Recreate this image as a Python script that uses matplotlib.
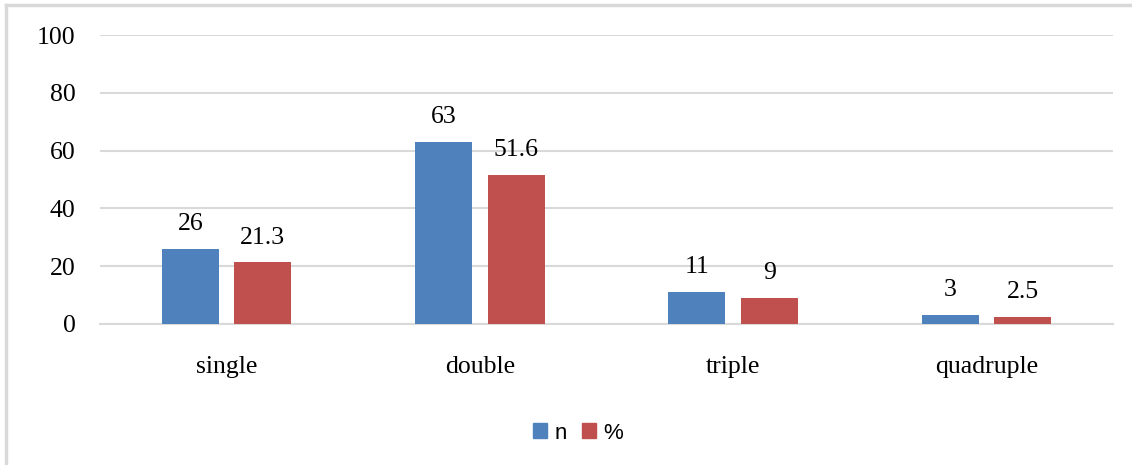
import numpy as np
import matplotlib
matplotlib.use('Agg')
from matplotlib import pyplot as plt
from matplotlib.lines import Line2D
from matplotlib.patches import Patch

categories = ['single', 'double', 'triple', 'quadruple']
n_values = [26, 63, 11, 3]
pct_values = [21.3, 51.6, 9, 2.5]
n_labels = ['26', '63', '11', '3']
pct_labels = ['21.3', '51.6', '9', '2.5']

blue = '#4F81BD'
red = '#C0504D'
grid = '#D9D9D9'
serif = ['Liberation Serif', 'DejaVu Serif']

fig = plt.figure(figsize=(11.32, 4.65), dpi=100)
ax = fig.add_axes([100/1132, 1-324/465, 1013/1132, 289/465])

x = np.arange(len(categories))
w = 0.225
b1 = ax.bar(x - 0.143, n_values, w, color=blue, zorder=3)
b2 = ax.bar(x + 0.143, pct_values, w, color=red, zorder=3)

for bars, labels in ((b1, n_labels), (b2, pct_labels)):
    for rect, lab in zip(bars, labels):
        ax.annotate(lab, (rect.get_x() + rect.get_width()/2, rect.get_height()),
                    xytext=(0, 10), textcoords='offset points', ha='center', va='bottom',
                    fontsize=18.5, family=serif)

ax.set_xlim(-0.5, len(categories) - 0.5)
ax.set_ylim(0, 100)
ax.set_yticks(range(0, 101, 20))
ax.set_yticklabels([str(v) for v in range(0, 101, 20)], fontsize=18.5, family=serif)
ax.set_xticks(x)
ax.set_xticklabels(categories, fontsize=18.5, family=serif)
ax.tick_params(axis='both', length=0)
ax.tick_params(axis='y', pad=17.5)
ax.tick_params(axis='x', pad=23)
ax.grid(axis='y', color=grid, linewidth=1.5, zorder=0)
for side in ('top', 'right', 'left'):
    ax.spines[side].set_visible(False)
ax.spines['bottom'].set_color(grid)
ax.spines['bottom'].set_linewidth(1.5)

handles = [Patch(color=blue), Patch(color=red)]
fig.legend(handles, ['n', '%'], loc='center', bbox_to_anchor=(578/1132, 1-433/465),
           ncol=2, frameon=False, prop={'family': 'Liberation Sans', 'size': 16},
           handlelength=0.63, handleheight=0.63, handletextpad=0.3, columnspacing=0.7)

# outer frame (only top and left edges fall inside the canvas)
fig.add_artist(Line2D([6/1132, 6/1132], [0, 1-5/465], color=grid, linewidth=2.5))
fig.add_artist(Line2D([6/1132, 1], [1-5/465, 1-5/465], color=grid, linewidth=2.5))

fig.savefig('out.png', dpi=100)
